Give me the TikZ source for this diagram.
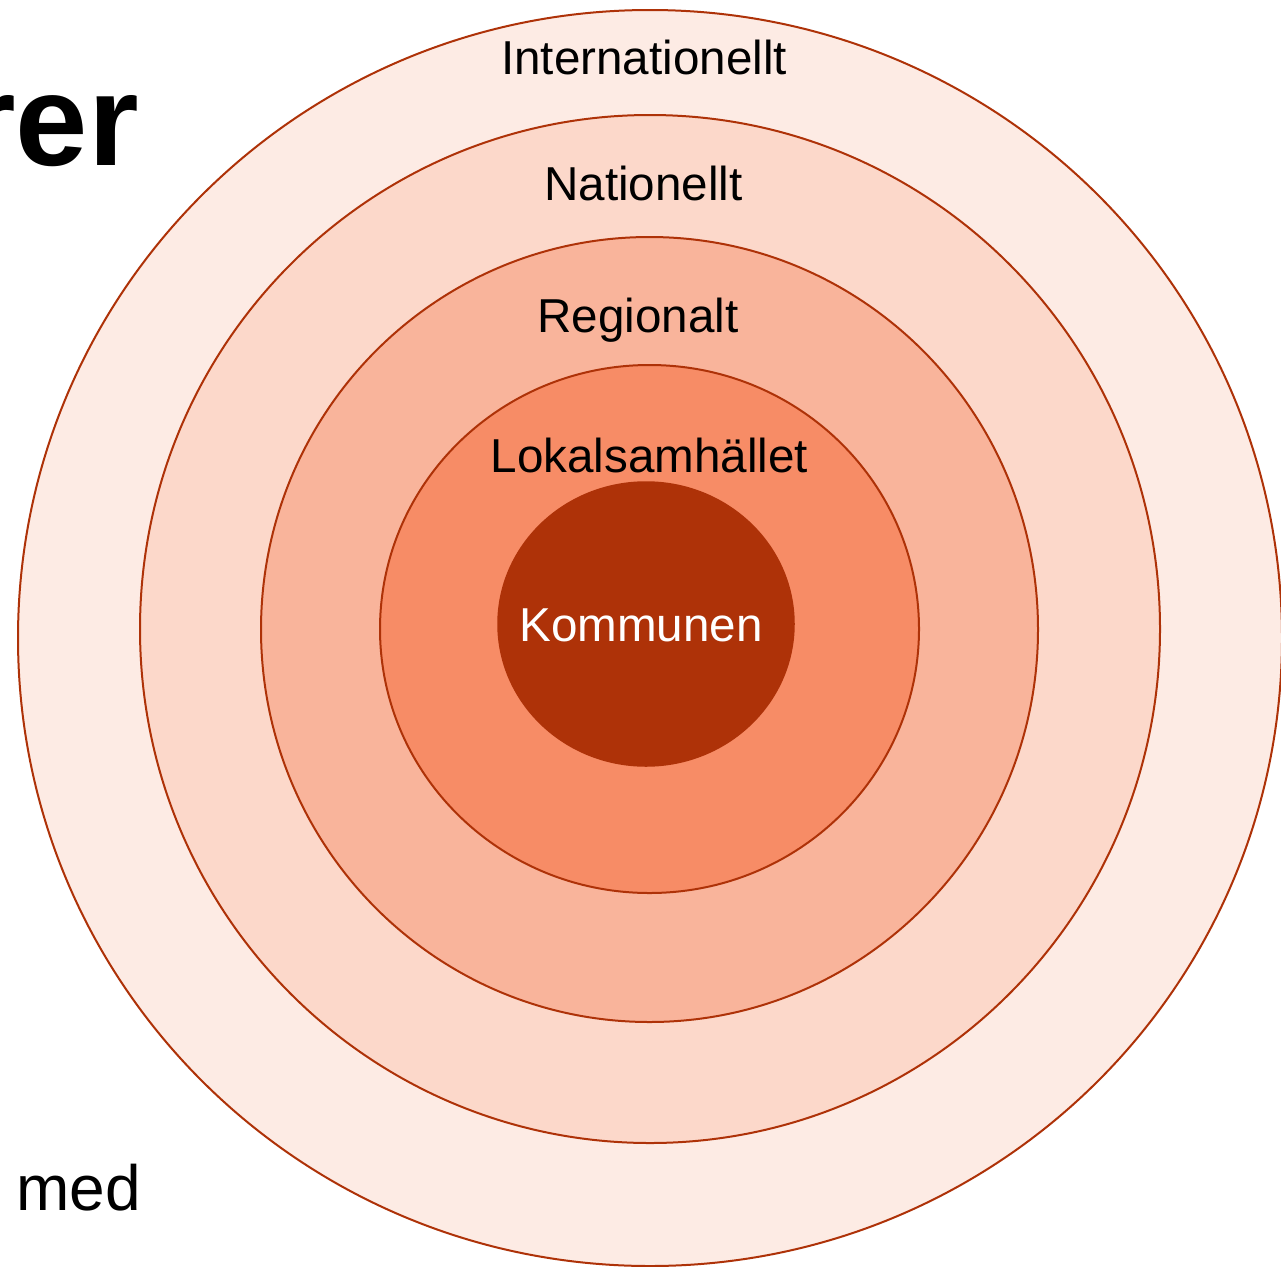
\documentclass[tikz,border=0pt]{standalone}
\usepackage{fontspec}
\setmainfont{Liberation Sans}
\usetikzlibrary{shapes.geometric}
\definecolor{ringline}{HTML}{AE3208}
\definecolor{fillA}{HTML}{FDEBE4}
\definecolor{fillB}{HTML}{FCD8CA}
\definecolor{fillC}{HTML}{F9B49B}
\definecolor{fillD}{HTML}{F78C66}
\definecolor{fillE}{HTML}{AE3208}
\tikzset{
  ring/.style={ellipse, draw=ringline, line width=2pt, inner sep=0pt, outer sep=0pt},
  lab/.style={anchor=base, inner sep=0pt, font=\fontsize{47.6}{56}\selectfont},
}
\begin{document}
\begin{tikzpicture}[x=1pt,y=-1pt]
\useasboundingbox[fill=white] (0,0) rectangle (1281,1266);
\node[ring, fill=fillA, minimum width=1264pt, minimum height=1256pt] (intl) at (650,638) {};
\node[ring, fill=fillB, minimum width=1020pt, minimum height=1028pt] (nat) at (650,629) {};
\node[ring, fill=fillC, minimum width=777pt, minimum height=785pt] (reg) at (649.5,629.5) {};
\node[ring, fill=fillD, minimum width=539pt, minimum height=528pt] (lok) at (649.5,629) {};
\node[ring, fill=fillE, line width=1.5pt, minimum width=296pt, minimum height=284pt] (kom) at (646,624) {};
\node[lab] (tintl) at (644,74) {Internationellt};
\node[lab] (tnat) at (643.5,200) {Nationellt};
\node[lab] (treg) at (638,332) {Regionalt};
\node[lab] (tlok) at (649.5,472) {Lokalsamhället};
\node[lab, text=white] (tkom) at (641,641) {Kommunen};
\node[anchor=base east, inner sep=0pt, font=\bfseries\fontsize{130}{150}\selectfont] (trer) at (139,165) {rer};
\node[anchor=base west, inner sep=0pt, font=\fontsize{64}{74}\selectfont] (tmed) at (16,1210) {med};
\end{tikzpicture}
\end{document}
